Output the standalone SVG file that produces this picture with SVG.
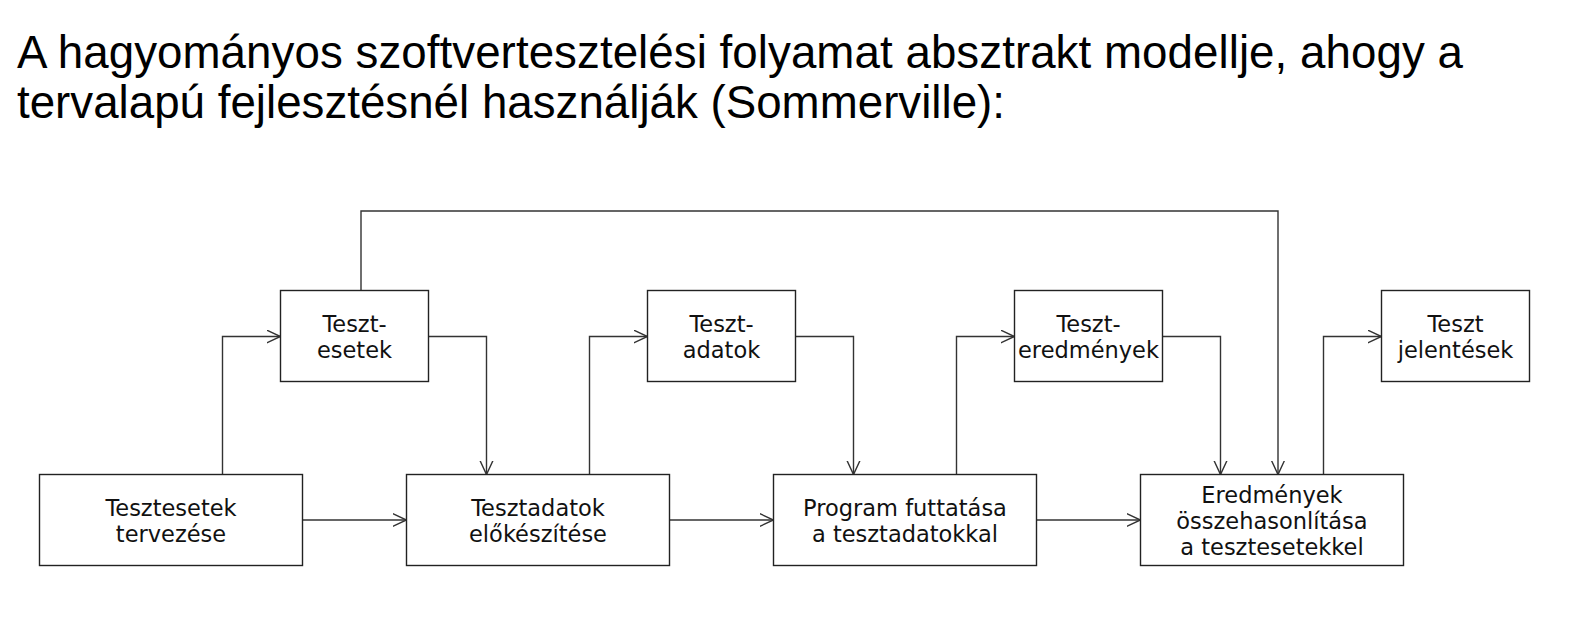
<svg xmlns="http://www.w3.org/2000/svg" width="1576" height="632" viewBox="0 0 1576 632">
<style>
.title{font-family:"Liberation Sans",Arial,sans-serif;font-size:45.7px;fill:#000}
.box{fill:#fff;stroke:#222;stroke-width:1.4}
.lbl{font-family:"DejaVu Sans",Verdana,sans-serif;font-size:22.5px;fill:#111;text-anchor:middle}
.con{fill:none;stroke:#333;stroke-width:1.4}
</style>
<defs>
<marker id="arr" markerUnits="userSpaceOnUse" markerWidth="16" markerHeight="16" refX="14" refY="7" orient="auto">
<path d="M0,0.5 L14,7 L0,13.5" fill="none" stroke="#333" stroke-width="1.4"/>
</marker>
</defs>
<rect width="1576" height="632" fill="#fff"/>
<g id="title">
<text class="title" x="17" y="68" textLength="1446">A hagyományos szoftvertesztelési folyamat absztrakt modellje, ahogy a</text>
<text class="title" x="17" y="118" textLength="988">tervalapú fejlesztésnél használják (Sommerville):</text>
</g>
<g id="connectors">
<path class="con" marker-end="url(#arr)" d="M222.5,474.5 V336.5 H280.5"/>
<path class="con" marker-end="url(#arr)" d="M428.5,336.5 H486.5 V474.5"/>
<path class="con" marker-end="url(#arr)" d="M302.5,520 H406.5"/>
<path class="con" marker-end="url(#arr)" d="M589.5,474.5 V336.5 H647.5"/>
<path class="con" marker-end="url(#arr)" d="M795.5,336.5 H853.5 V474.5"/>
<path class="con" marker-end="url(#arr)" d="M669.5,520 H773.5"/>
<path class="con" marker-end="url(#arr)" d="M956.5,474.5 V336.5 H1014.5"/>
<path class="con" marker-end="url(#arr)" d="M1162.5,336.5 H1220.5 V474.5"/>
<path class="con" marker-end="url(#arr)" d="M1036.5,520 H1140.5"/>
<path class="con" marker-end="url(#arr)" d="M1323.5,474.5 V336.5 H1381.5"/>
<path class="con" marker-end="url(#arr)" d="M361,290.5 V211 H1278 V474.5"/>
</g>
<g id="n1">
<rect class="box" x="39.5" y="474.5" width="263" height="91"/>
<text class="lbl" x="171" y="516">Tesztesetek</text>
<text class="lbl" x="171" y="542">tervezése</text>
</g>
<g id="n2">
<rect class="box" x="280.5" y="290.5" width="148" height="91"/>
<text class="lbl" x="354.5" y="332">Teszt-</text>
<text class="lbl" x="354.5" y="358">esetek</text>
</g>
<g id="n3">
<rect class="box" x="406.5" y="474.5" width="263" height="91"/>
<text class="lbl" x="538" y="516">Tesztadatok</text>
<text class="lbl" x="538" y="542">előkészítése</text>
</g>
<g id="n4">
<rect class="box" x="647.5" y="290.5" width="148" height="91"/>
<text class="lbl" x="721.5" y="332">Teszt-</text>
<text class="lbl" x="721.5" y="358">adatok</text>
</g>
<g id="n5">
<rect class="box" x="773.5" y="474.5" width="263" height="91"/>
<text class="lbl" x="905" y="516">Program futtatása</text>
<text class="lbl" x="905" y="542">a tesztadatokkal</text>
</g>
<g id="n6">
<rect class="box" x="1014.5" y="290.5" width="148" height="91"/>
<text class="lbl" x="1088.5" y="332">Teszt-</text>
<text class="lbl" x="1088.5" y="358">eredmények</text>
</g>
<g id="n7">
<rect class="box" x="1140.5" y="474.5" width="263" height="91"/>
<text class="lbl" x="1272" y="503">Eredmények</text>
<text class="lbl" x="1272" y="529">összehasonlítása</text>
<text class="lbl" x="1272" y="555">a tesztesetekkel</text>
</g>
<g id="n8">
<rect class="box" x="1381.5" y="290.5" width="148" height="91"/>
<text class="lbl" x="1455.5" y="332">Teszt</text>
<text class="lbl" x="1455.5" y="358">jelentések</text>
</g>
</svg>
